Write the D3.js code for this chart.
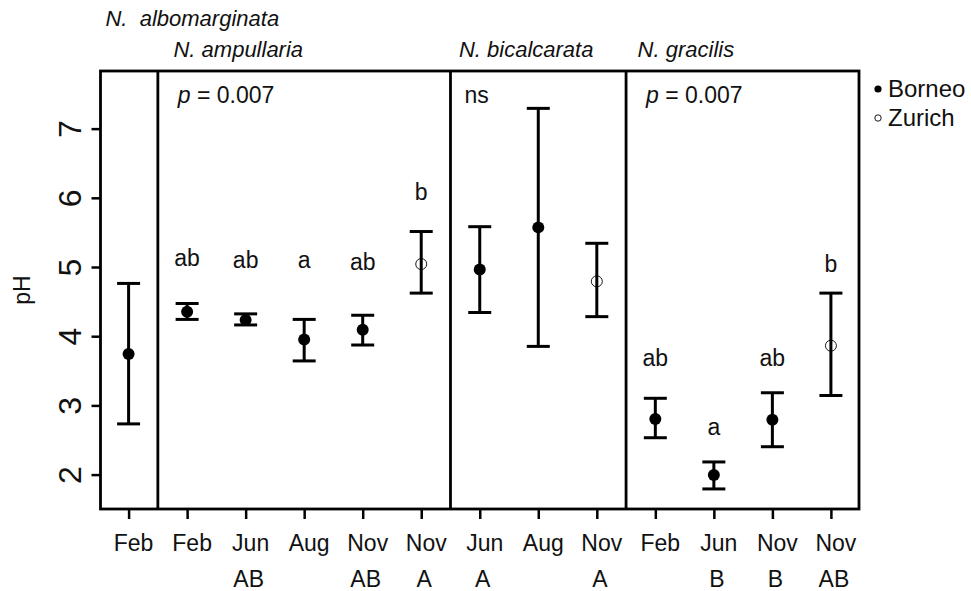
<!DOCTYPE html>
<html>
<head>
<meta charset="utf-8">
<script src="https://cdn.jsdelivr.net/npm/d3@7"></script>
<style>
  body { margin: 0; background: #fff; }
  svg { display: block; font-family: "Liberation Sans", Arial, sans-serif; }
</style>
</head>
<body>
<script>
// data
const months   = ['Feb','Feb','Jun','Aug','Nov','Nov','Jun','Aug','Nov','Feb','Jun','Nov','Nov'];
const groups   = ['','','AB','','AB','A','A','','A','','B','B','AB'];
const sites    = ['Borneo','Borneo','Borneo','Borneo','Borneo','Zurich','Borneo','Borneo','Zurich','Borneo','Borneo','Borneo','Zurich'];
const means    = [3.75, 4.36, 4.24, 3.96, 4.10, 5.05, 4.97, 5.58, 4.80, 2.81, 2.00, 2.80, 3.87];
const upper    = [4.77, 4.48, 4.33, 4.25, 4.31, 5.52, 5.59, 7.30, 5.35, 3.11, 2.19, 3.19, 4.63];
const lower    = [2.74, 4.25, 4.17, 3.65, 3.88, 4.63, 4.35, 3.86, 4.29, 2.54, 1.80, 2.41, 3.15];
const letters  = ['', 'ab','ab','a','ab','b','','','','ab','a','ab','b'];
const letterY  = [null, 5.02, 5.00, 5.00, 4.97, 5.98, null, null, null, 3.57, 2.58, 3.58, 4.94];
const dividers = [1.5, 6.5, 9.5];
const species  = ['N.  albomarginata', 'N. ampullaria', 'N. bicalcarata', 'N. gracilis'];
const speciesX = [0.605, 1.767, 6.644, 9.697];
const pTexts   = ['p = 0.007', 'ns', 'p = 0.007'];
const pX       = [1.84, 6.74, 9.84];
const yTicks   = [2, 3, 4, 5, 6, 7];

const width = 971, height = 591;
const plotLeft = 100.5, plotRight = 859, plotTop = 71, plotBottom = 509;

const svg = d3.select('body').append('svg')
  .attr('width', width)
  .attr('height', height);

const x = d3.scaleLinear().domain([0.52, 13.48]).range([plotLeft, plotRight]);
const y = d3.scaleLinear().domain([1.51, 7.84]).range([plotBottom, plotTop]);
const idx = d3.range(months.length);

// y axis
const yAxis = d3.axisLeft(y).tickValues(yTicks).tickSize(9).tickFormat(d3.format('d'));
const gy = svg.append('g')
  .attr('transform', 'translate(' + plotLeft + ',0)')
  .call(yAxis);
gy.select('.domain').remove();
gy.selectAll('line').attr('stroke', '#000').attr('stroke-width', 2.5);
gy.selectAll('.tick').attr('transform', null);
gy.selectAll('.tick line').attr('y1', d => y(d)).attr('y2', d => y(d));
gy.selectAll('.tick text')
  .attr('font-size', 32)
  .attr('fill', '#111')
  .attr('x', 0).attr('y', 11).attr('dy', 0)
  .attr('text-anchor', 'middle')
  .attr('transform', d => 'translate(-31,' + y(d) + ') rotate(-90)');

// x axis (ticks only, labels drawn below)
const xAxis = d3.axisBottom(x).tickValues(idx.map(i => i + 1)).tickSize(10).tickFormat('');
const gx = svg.append('g')
  .attr('transform', 'translate(0,' + plotBottom + ')')
  .call(xAxis);
gx.select('.domain').remove();
gx.selectAll('line').attr('stroke', '#000').attr('stroke-width', 2.5);

svg.selectAll('text.month')
  .data(idx)
  .enter().append('text')
  .attr('class', 'month')
  .attr('x', i => x(i + 1) + 5)
  .attr('y', 551)
  .attr('text-anchor', 'middle')
  .attr('font-size', 23)
  .attr('fill', '#111')
  .text(i => months[i]);

svg.selectAll('text.grp')
  .data(idx.filter(i => groups[i] !== ''))
  .enter().append('text')
  .attr('class', 'grp')
  .attr('x', i => x(i + 1) + 3)
  .attr('y', 587)
  .attr('text-anchor', 'middle')
  .attr('font-size', 23)
  .attr('fill', '#111')
  .text(i => groups[i]);

// y label
svg.append('text')
  .attr('transform', 'translate(30,' + ((plotTop + plotBottom) / 2) + ') rotate(-90)')
  .attr('text-anchor', 'middle')
  .attr('font-size', 23)
  .attr('fill', '#111')
  .text('pH');

// box and panel dividers
svg.append('rect')
  .attr('x', plotLeft).attr('y', plotTop)
  .attr('width', plotRight - plotLeft).attr('height', plotBottom - plotTop)
  .attr('fill', 'none').attr('stroke', '#000').attr('stroke-width', 2.8);

svg.selectAll('line.div')
  .data(dividers)
  .enter().append('line')
  .attr('class', 'div')
  .attr('x1', d => x(d)).attr('x2', d => x(d))
  .attr('y1', plotTop).attr('y2', plotBottom)
  .attr('stroke', '#000').attr('stroke-width', 2.8);

// species titles
svg.selectAll('text.sp')
  .data(species)
  .enter().append('text')
  .attr('class', 'sp')
  .attr('x', (d, i) => x(speciesX[i]))
  .attr('y', (d, i) => i === 0 ? 26 : 57)
  .attr('font-size', 22)
  .attr('font-style', 'italic')
  .attr('fill', '#111')
  .style('white-space', 'pre')
  .text(d => d);

// p-values
const pt = svg.selectAll('text.pv')
  .data(pTexts)
  .enter().append('text')
  .attr('class', 'pv')
  .attr('x', (d, i) => x(pX[i]))
  .attr('y', 103)
  .attr('font-size', 23)
  .attr('fill', '#111');
pt.each(function(d) {
  const t = d3.select(this);
  if (d.startsWith('p')) {
    t.append('tspan').attr('font-style', 'italic').text('p');
    t.append('tspan').text(d.slice(1));
  } else {
    t.text(d);
  }
});

// error bars
const cap = 11.5;
const eb = svg.selectAll('g.eb')
  .data(idx)
  .enter().append('g')
  .attr('class', 'eb')
  .attr('stroke', '#000')
  .attr('stroke-width', 3);
eb.append('line')
  .attr('x1', i => x(i + 1)).attr('x2', i => x(i + 1))
  .attr('y1', i => y(upper[i])).attr('y2', i => y(lower[i]));
eb.append('line')
  .attr('x1', i => x(i + 1) - cap).attr('x2', i => x(i + 1) + cap)
  .attr('y1', i => y(upper[i])).attr('y2', i => y(upper[i]));
eb.append('line')
  .attr('x1', i => x(i + 1) - cap).attr('x2', i => x(i + 1) + cap)
  .attr('y1', i => y(lower[i])).attr('y2', i => y(lower[i]));

// points (Borneo filled, Zurich open)
svg.selectAll('circle.pt')
  .data(idx)
  .enter().append('circle')
  .attr('class', 'pt')
  .attr('cx', i => x(i + 1))
  .attr('cy', i => y(means[i]))
  .attr('r', i => sites[i] === 'Borneo' ? 6 : 5.5)
  .attr('fill', i => sites[i] === 'Borneo' ? '#000' : 'none')
  .attr('stroke', '#000')
  .attr('stroke-width', i => sites[i] === 'Borneo' ? 0 : 0.9);

// significance letters
svg.selectAll('text.let')
  .data(idx.filter(i => letters[i] !== ''))
  .enter().append('text')
  .attr('class', 'let')
  .attr('x', i => x(i + 1))
  .attr('y', i => y(letterY[i]))
  .attr('text-anchor', 'middle')
  .attr('font-size', 23)
  .attr('fill', '#111')
  .text(i => letters[i]);

// legend
const legendItems = ['Borneo', 'Zurich'];
const lg = svg.selectAll('g.lg')
  .data(legendItems)
  .enter().append('g')
  .attr('class', 'lg')
  .attr('transform', (d, i) => 'translate(878,' + (89 + i * 29) + ')');
lg.append('circle')
  .attr('r', (d, i) => i === 0 ? 3.6 : 3.2)
  .attr('fill', (d, i) => i === 0 ? '#000' : 'none')
  .attr('stroke', '#000')
  .attr('stroke-width', (d, i) => i === 0 ? 0 : 0.9);
lg.append('text')
  .attr('x', 10)
  .attr('y', 8)
  .attr('font-size', 24)
  .attr('fill', '#111')
  .text(d => d);
</script>
</body>
</html>
